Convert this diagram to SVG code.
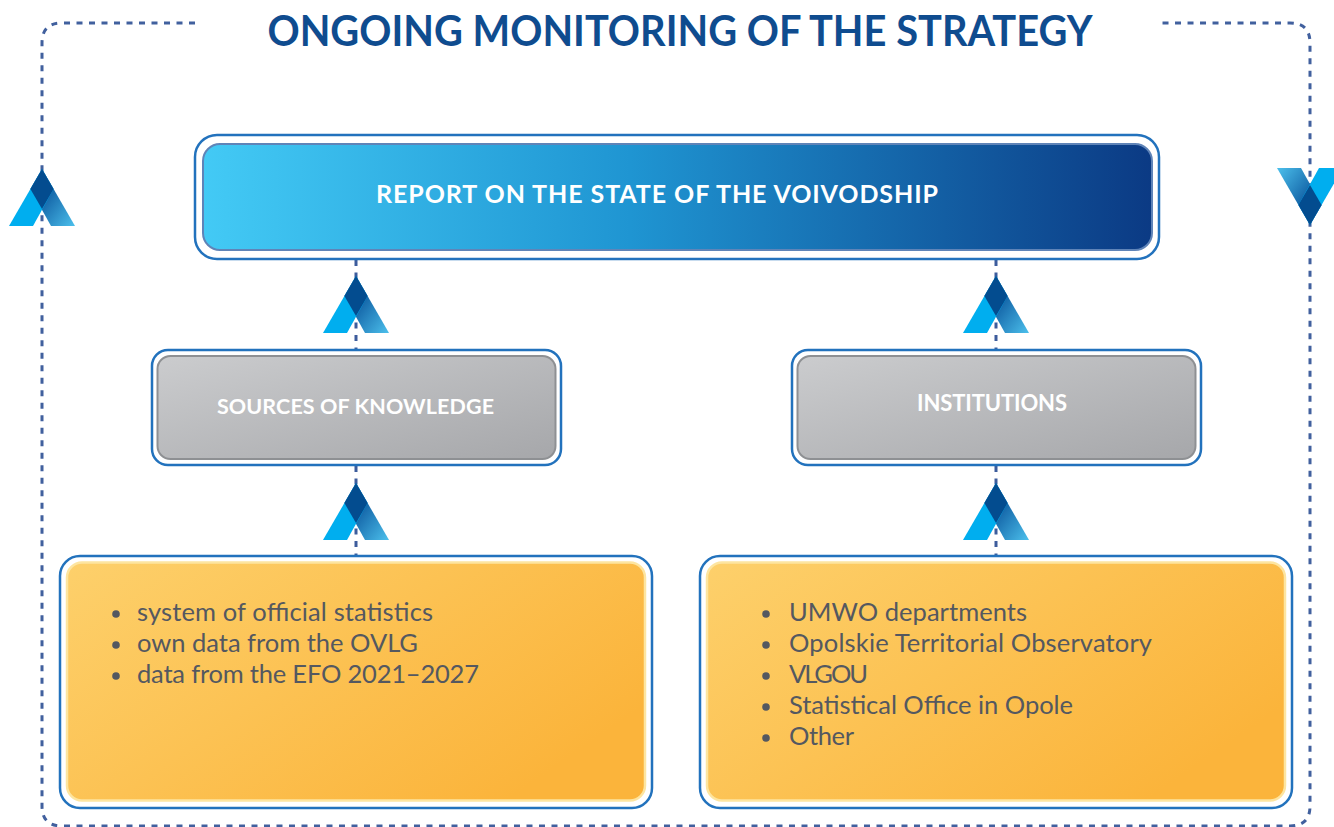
<svg xmlns="http://www.w3.org/2000/svg" width="1334" height="827" viewBox="0 0 1334 827">
<style>
.frame{fill:none;stroke:#41609e;stroke-width:3;stroke-dasharray:6 6.5}
.conn{fill:none;stroke:#3d5c9c;stroke-width:3;stroke-dasharray:6 6.5}
.outer{fill:#fff;stroke:#2272bd;stroke-width:2.5}
.title{font-family:Lato,"Open Sans",sans-serif;font-weight:bold;font-size:42px;fill:#0f4c8f}
.hd{font-family:Lato,"Open Sans",sans-serif;font-weight:bold;fill:#fff;text-anchor:middle}
.body{font-family:Lato,"Open Sans",sans-serif;font-size:25.5px;fill:#545860}
.bul{fill:#545860}
</style>
<defs>
<linearGradient id="gRight" x1="0" y1="0" x2="1" y2="1">
<stop offset="0" stop-color="#08448a"/><stop offset="0.35" stop-color="#0d5aa0"/><stop offset="1" stop-color="#4cc0ec"/>
</linearGradient>
<linearGradient id="gTop" x1="0" y1="0" x2="1" y2="0">
<stop offset="0" stop-color="#43caf5"/><stop offset="0.45" stop-color="#1f95d2"/><stop offset="1" stop-color="#0b3a84"/>
</linearGradient>
<linearGradient id="gGray" x1="0" y1="0" x2="1" y2="1">
<stop offset="0" stop-color="#cbccce"/><stop offset="1" stop-color="#a6a7aa"/>
</linearGradient>
<linearGradient id="gYel" x1="0" y1="0" x2="1" y2="0.6">
<stop offset="0" stop-color="#fdd06b"/><stop offset="1" stop-color="#fbb43b"/>
</linearGradient>
<g id="icon">
<polygon points="0,0 33,57 9,57 -11.6,20" fill="url(#gRight)"/>
<polygon points="-33,57 -9,57 11.6,20 0,0" fill="#00aeef"/>
<polygon points="0,0 11.6,20 0,40 -11.6,20" fill="#034c8f"/>
</g>
</defs>
<rect width="1334" height="827" fill="#fff"/>

<g id="connectors">
<path class="frame" d="M195,23 H62 Q42,23 42,43 V806 Q42,826 62,826 H1290 Q1310,826 1310,806 V43 Q1310,23 1290,23 H1158"/>
<line class="conn" x1="356" y1="260" x2="356" y2="350"/>
<line class="conn" x1="996" y1="260" x2="996" y2="350"/>
<line class="conn" x1="356" y1="466" x2="356" y2="556"/>
<line class="conn" x1="996" y1="466" x2="996" y2="556"/>
<use href="#icon" x="42" y="169"/>
<use href="#icon" transform="translate(1310,225) rotate(180)"/>
<use href="#icon" x="356" y="276"/>
<use href="#icon" x="996" y="276"/>
<use href="#icon" x="356" y="483"/>
<use href="#icon" x="996" y="483"/>
</g>

<g id="title">
<text class="title" x="680" y="46" text-anchor="middle" textLength="825" lengthAdjust="spacingAndGlyphs">ONGOING MONITORING OF THE STRATEGY</text>
</g>

<g id="report">
<rect class="outer" x="195" y="135" width="964" height="124" rx="22"/>
<rect x="203" y="144" width="949" height="106" rx="17" fill="url(#gTop)" stroke="#5f84b8" stroke-width="2"/>
<text class="hd" x="657" y="203" font-size="25" textLength="562">REPORT ON THE STATE OF THE VOIVODSHIP</text>
</g>

<g id="sources">
<rect class="outer" x="152" y="350" width="409" height="115" rx="16"/>
<rect x="157.5" y="356" width="398" height="103" rx="13" fill="url(#gGray)" stroke="#8e9093" stroke-width="2"/>
<text class="hd" x="355.5" y="414" font-size="21.5" textLength="277">SOURCES OF KNOWLEDGE</text>
</g>

<g id="institutions">
<rect class="outer" x="792" y="350" width="409" height="115" rx="16"/>
<rect x="797.5" y="356" width="398" height="103" rx="13" fill="url(#gGray)" stroke="#8e9093" stroke-width="2"/>
<text class="hd" x="992" y="411" font-size="22" textLength="150">INSTITUTIONS</text>
</g>

<g id="sources-list">
<rect class="outer" x="60" y="556" width="592" height="252" rx="20"/>
<rect x="67" y="562.5" width="578" height="238" rx="15" fill="url(#gYel)" stroke="#fde5a0" stroke-width="2.5"/>
<circle class="bul" cx="116" cy="614" r="3.8"/>
<circle class="bul" cx="116" cy="645" r="3.8"/>
<circle class="bul" cx="116" cy="676" r="3.8"/>
<text class="body" x="137" y="621" textLength="296">system of official statistics</text>
<text class="body" x="137" y="652" textLength="281">own data from the OVLG</text>
<text class="body" x="137" y="683" textLength="342">data from the EFO 2021–2027</text>
</g>

<g id="institutions-list">
<rect class="outer" x="700" y="556" width="592" height="252" rx="20"/>
<rect x="707" y="562.5" width="578" height="238" rx="15" fill="url(#gYel)" stroke="#fde5a0" stroke-width="2.5"/>
<circle class="bul" cx="766" cy="614" r="3.8"/>
<circle class="bul" cx="766" cy="645" r="3.8"/>
<circle class="bul" cx="766" cy="676" r="3.8"/>
<circle class="bul" cx="766" cy="707" r="3.8"/>
<circle class="bul" cx="766" cy="738" r="3.8"/>
<text class="body" x="789" y="621" textLength="238">UMWO departments</text>
<text class="body" x="789" y="652" textLength="363">Opolskie Territorial Observatory</text>
<text class="body" x="789" y="683" textLength="79">VLGOU</text>
<text class="body" x="789" y="714" textLength="284">Statistical Office in Opole</text>
<text class="body" x="789" y="745" textLength="65">Other</text>
</g>
</svg>
